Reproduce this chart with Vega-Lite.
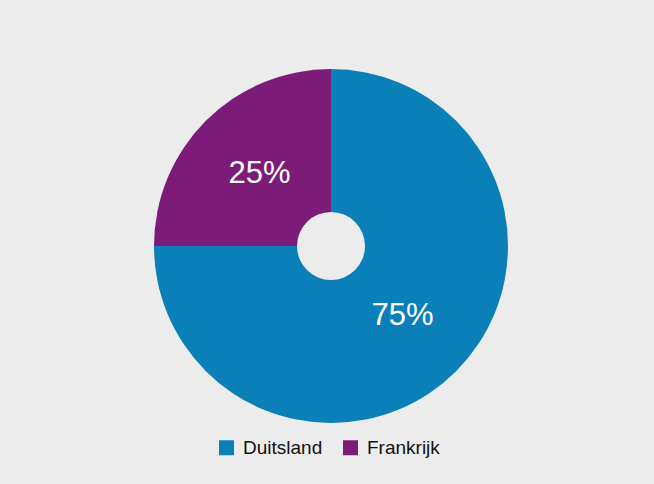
{
  "$schema": "https://vega.github.io/schema/vega-lite/v6.json",
  "autosize": "none",
  "width": 646,
  "height": 476,
  "padding": {"left": 8, "top": 8, "right": 0, "bottom": 0},
  "background": "#ececec",
  "config": {"view": {"stroke": null}, "font": "Liberation Sans"},
  "data": {"values": [
    {"land": "Duitsland", "aandeel": 75, "label": "75%"},
    {"land": "Frankrijk", "aandeel": 25, "label": "25%"}
  ]},
  "encoding": {
    "theta": {"field": "aandeel", "type": "quantitative", "stack": true},
    "order": {"field": "aandeel", "type": "quantitative", "sort": "descending"}
  },
  "layer": [
    {"mark": {"type": "arc", "outerRadius": 177, "innerRadius": 34},
     "encoding": {
      "color": {
        "field": "land", "type": "nominal",
        "scale": {"domain": ["Duitsland", "Frankrijk"], "range": ["#0a7fb8", "#7c1c78"]},
        "legend": {
          "title": null, "orient": "none", "direction": "horizontal",
          "legendX": 209, "legendY": 430,
          "symbolType": "square", "symbolSize": 225, "symbolStrokeWidth": 0, "symbolOpacity": 1,
          "labelFontSize": 19, "labelColor": "#111111", "labelFont": "Liberation Sans",
          "columnPadding": 18, "labelOffset": 7, "labelLimit": 300
        }
      }
     }},
    {"mark": {"type": "text", "radius": 101, "fontSize": 31, "color": "white", "baseline": "middle", "align": "center", "dy": -1},
     "encoding": {"text": {"field": "label"}}}
  ]
}
